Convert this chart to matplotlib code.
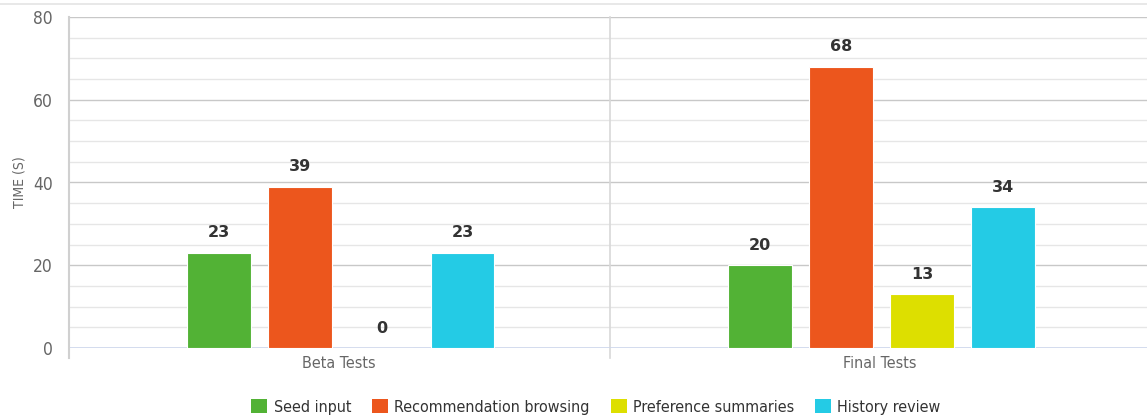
#!/usr/bin/env python3
"""Task time per test phase, grouped bars."""

import matplotlib

matplotlib.use("Agg")
import matplotlib.pyplot as plt
from matplotlib.lines import Line2D
from matplotlib.patches import Patch

categories = ["Beta Tests", "Final Tests"]
series = ["Seed input", "Recommendation browsing", "Preference summaries", "History review"]
values = [
    [23, 20],
    [39, 68],
    [0, 13],
    [23, 34],
]
colors = ["#52b235", "#ec561d", "#dddf00", "#24cbe5"]
y_ticks = [0, 20, 40, 60, 80]

plt.rcParams["font.family"] = ["DejaVu Sans"]
plt.rcParams["font.stretch"] = "condensed"

W, H = 1147, 419
fig = plt.figure(figsize=(W / 100, H / 100), dpi=100)
left, bottom, top = 69 / W, 1 - 348 / H, 1 - 17 / H
ax = fig.add_axes([left, bottom, 1081 / W, top - bottom])

width = 0.118
step = 0.15
offsets = [(i - 1.5) * step for i in range(len(series))]
for i, name in enumerate(series):
    for j, cat in enumerate(categories):
        x = j + offsets[i] + 0.003
        v = values[i][j]
        ax.bar(x, v, width=width, color=colors[i], edgecolor="white",
               linewidth=0.8, zorder=3)
        ax.annotate(str(v), (x, v), xytext=(0, 9), textcoords="offset points",
                    ha="center", va="bottom", fontsize=11.5, fontweight="bold",
                    color="#333333", family="DejaVu Sans", stretch="normal",
                    zorder=4)

ax.set_xlim(-0.5, 1.5)
ax.set_ylim(0, 80)

# minor grid every 5, major every 20
for y in range(5, 81, 5):
    major = y % 20 == 0
    ax.axhline(y, color="#c8c8c8" if major else "#e6e6e6", linewidth=1, zorder=1)
ax.axhline(0, color="#ccd6eb", linewidth=1.2, zorder=2)
ax.axvline(0.5, ymin=-0.03, ymax=1, color="#d8d8d8", linewidth=1.2,
           clip_on=False, zorder=1)
ax.axvline(-0.5, ymin=-0.03, ymax=1, color="#d0d0d0", linewidth=1.5,
           clip_on=False, zorder=2)

for spine in ax.spines.values():
    spine.set_visible(False)

ax.set_yticks(y_ticks)
ax.set_yticklabels([str(t) for t in y_ticks], fontsize=12.5, color="#666666")
for label in ax.get_yticklabels():
    label.set_verticalalignment("center_baseline")
ax.set_xticks(range(len(categories)))
ax.set_xticklabels(categories, fontsize=11.5, color="#666666")
ax.tick_params(length=0)
ax.tick_params(axis="y", pad=11.5)
ax.tick_params(axis="x", pad=6)
ax.set_ylabel("TIME (S)", fontsize=10, color="#666666", labelpad=5)

fig.add_artist(Line2D([0, 1], [1 - 4 / H, 1 - 4 / H], color="#e4e4e4",
                      linewidth=1.2, transform=fig.transFigure))

handles = [Patch(facecolor=c, edgecolor="none") for c in colors]
fig.legend(handles, series, loc="center", bbox_to_anchor=(596 / W, 1 - 407 / H),
           ncol=4, frameon=False, fontsize=11.5, handlelength=1.0,
           handleheight=1.0, handletextpad=0.4, columnspacing=1.3,
           labelcolor="#333333")

fig.savefig("out.png", dpi=100)
